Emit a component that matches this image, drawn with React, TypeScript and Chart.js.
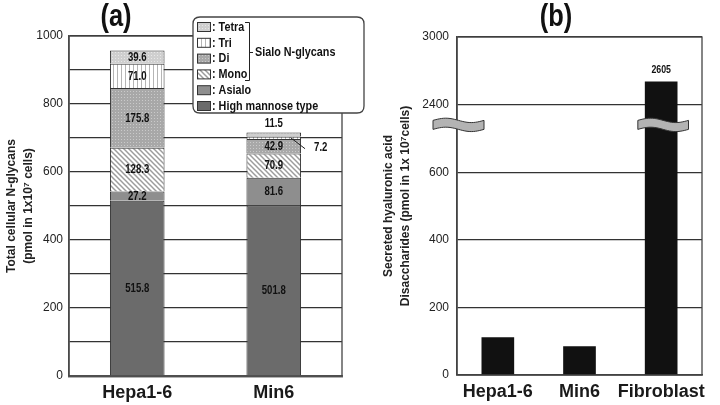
import React, { useEffect, useRef } from 'react';
import { Chart, registerables, LinearScale } from 'chart.js';

Chart.register(...registerables);

// ---------- data (a) ----------
const categoriesA = ['Hepa1-6', 'Min6'];
const highMannose = [515.8, 501.8];
const asialo = [27.2, 81.6];
const mono = [128.3, 70.9];
const di = [175.8, 42.9];
const tri = [71.0, 7.2];
const tetra = [39.6, 11.5];
const yTicksA = [0, 200, 400, 600, 800, 1000];
const legendNamesA = ['Tetra', 'Tri', 'Di', 'Mono', 'Asialo', 'High mannose type'];

// ---------- data (b) ----------
const categoriesB = ['Hepa1-6', 'Min6', 'Fibroblast'];
const hyaluronic = [112, 85, 2605];
const yTicksB = [0, 200, 400, 600, 2400, 3000];
const breakLow = 600;
const breakHigh = 2400;
const axisTopB = 3000;
const labelledB = [false, false, true];

const SANS = '"Liberation Sans", Arial, sans-serif';

// piecewise (broken) axis: lower 0..600 -> 60%, gap 600..2400 -> 20%, upper 2400..3000 -> 20%
function breakDecimal(v: number) {
  if (v <= breakLow) return (v / breakLow) * 0.6;
  if (v < breakHigh) return 0.6 + ((v - breakLow) / (breakHigh - breakLow)) * 0.2;
  return 0.8 + ((v - breakHigh) / (axisTopB - breakHigh)) * 0.2;
}
function breakValue(d: number) {
  if (d <= 0.6) return (d / 0.6) * breakLow;
  if (d < 0.8) return breakLow + ((d - 0.6) / 0.2) * (breakHigh - breakLow);
  return breakHigh + ((d - 0.8) / 0.2) * (axisTopB - breakHigh);
}

class BrokenScale extends (LinearScale as any) {
  static id = 'brokenLinear';
  static defaults = (LinearScale as any).defaults;
  buildTicks() {
    return yTicksB.map((value) => ({ value }));
  }
  getPixelForValue(v: number) {
    return (this as any).getPixelForDecimal(breakDecimal(v));
  }
  getValueForPixel(p: number) {
    return breakValue((this as any).getDecimalForPixel(p));
  }
}
Chart.register(BrokenScale as any);

function makePattern(bg: string, size: number, draw: (c: CanvasRenderingContext2D) => void) {
  const c = document.createElement('canvas');
  c.width = size;
  c.height = size;
  const ctx = c.getContext('2d')!;
  ctx.fillStyle = bg;
  ctx.fillRect(0, 0, size, size);
  draw(ctx);
  return ctx.createPattern(c, 'repeat')!;
}

function buildFills() {
  const monoP = makePattern('#ffffff', 5, (c) => {
    c.strokeStyle = '#9c9c9c';
    c.lineWidth = 1.5;
    for (const o of [-5, 0, 5]) {
      c.beginPath();
      c.moveTo(o - 1, -1);
      c.lineTo(o + 6, 6);
      c.stroke();
    }
  });
  const triP = makePattern('#ffffff', 4, (c) => {
    c.fillStyle = '#b5b5b5';
    c.fillRect(1, 0, 1, 4);
  });
  const diP = makePattern('#a8a8a8', 3, (c) => {
    c.fillStyle = '#cacaca';
    c.fillRect(1, 1, 1, 1);
  });
  const tetraP = makePattern('#cfcfcf', 3, (c) => {
    c.fillStyle = '#e8e8e8';
    c.fillRect(1, 1, 1, 1);
  });
  return { monoP, triP, diP, tetraP };
}

// condensed bold text (horizontal squeeze)
function narrowText(ctx: CanvasRenderingContext2D, txt: string, x: number, y: number, size: number, align: CanvasTextAlign, sx = 0.8) {
  ctx.save();
  ctx.font = 'bold ' + size + 'px ' + SANS;
  ctx.textAlign = align;
  ctx.textBaseline = 'middle';
  ctx.translate(x, y);
  ctx.scale(sx, 1);
  ctx.fillText(txt, 0, 0);
  ctx.restore();
}

function drawBreak(ctx: CanvasRenderingContext2D, x0: number, x1: number, yc: number) {
  const h = 9;
  const a = 2.2;
  const n = 24;
  ctx.save();
  ctx.beginPath();
  for (let i = 0; i <= n; i++) {
    const t = i / n;
    const x = x0 + (x1 - x0) * t;
    const y = yc - h / 2 - a * Math.sin(t * 2 * Math.PI);
    if (i === 0) ctx.moveTo(x, y);
    else ctx.lineTo(x, y);
  }
  for (let i = n; i >= 0; i--) {
    const t = i / n;
    const x = x0 + (x1 - x0) * t;
    const y = yc + h / 2 - a * Math.sin(t * 2 * Math.PI);
    ctx.lineTo(x, y);
  }
  ctx.closePath();
  ctx.fillStyle = '#b3b3b3';
  ctx.fill();
  ctx.strokeStyle = '#333';
  ctx.lineWidth = 1;
  ctx.stroke();
  ctx.restore();
}

function roundRect(ctx: CanvasRenderingContext2D, x: number, y: number, w: number, h: number, r: number) {
  ctx.beginPath();
  ctx.moveTo(x + r, y);
  ctx.lineTo(x + w - r, y);
  ctx.quadraticCurveTo(x + w, y, x + w, y + r);
  ctx.lineTo(x + w, y + h - r);
  ctx.quadraticCurveTo(x + w, y + h, x + w - r, y + h);
  ctx.lineTo(x + r, y + h);
  ctx.quadraticCurveTo(x, y + h, x, y + h - r);
  ctx.lineTo(x, y + r);
  ctx.quadraticCurveTo(x, y, x + r, y);
  ctx.closePath();
}

export default function App() {
  const refA = useRef<HTMLCanvasElement>(null);
  const refB = useRef<HTMLCanvasElement>(null);

  useEffect(() => {
    const { monoP, triP, diP, tetraP } = buildFills();
    const fillsA = ['#6b6b6b', '#8e8e8e', monoP, diP, triP, tetraP];
    const seriesA = [highMannose, asialo, mono, di, tri, tetra];
    const namesA = ['High mannose type', 'Asialo', 'Mono', 'Di', 'Tri', 'Tetra'];

    const framePlugin = {
      id: 'frame',
      beforeDatasetsDraw(chart: any) {
        const { ctx, chartArea: ca } = chart;
        ctx.save();
        ctx.strokeStyle = '#444';
        ctx.lineWidth = 1.3;
        ctx.strokeRect(ca.left, ca.top, ca.right - ca.left, ca.bottom - ca.top);
        ctx.restore();
      },
    };

    const labelsA = {
      id: 'labelsA',
      afterDatasetsDraw(chart: any) {
        const ctx = chart.ctx;
        ctx.save();
        ctx.fillStyle = '#111';
        const last = chart.data.datasets.length - 1;
        chart.data.datasets.forEach((ds: any, di2: number) => {
          const meta = chart.getDatasetMeta(di2);
          meta.data.forEach((bar: any, i: number) => {
            const { x, y, base, width } = bar.getProps(['x', 'y', 'base', 'width'], true);
            const h = Math.abs(base - y);
            const txt = Number(ds.data[i]).toFixed(1);
            const mid = (y + base) / 2;
            if (h >= 8) {
              narrowText(ctx, txt, x, mid + 0.5, 12, 'center');
            } else if (di2 === last) {
              narrowText(ctx, txt, x, y - 9, 12, 'center');
            } else {
              ctx.strokeStyle = '#222';
              ctx.lineWidth = 1;
              ctx.beginPath();
              ctx.moveTo(x + width * 0.31, mid);
              ctx.lineTo(x + width / 2 + 4, mid + 11);
              ctx.stroke();
              narrowText(ctx, txt, x + width / 2 + 13, mid + 10, 12, 'left');
            }
          });
        });
        ctx.restore();
      },
      afterDraw(chart: any) {
        const ctx = chart.ctx;
        ctx.save();
        ctx.fillStyle = '#111';
        narrowText(ctx, '(a)', 116, 17, 31, 'center', 0.82);
        // legend box
        const bx = 193, by = 17, bw = 171, bh = 96;
        roundRect(ctx, bx, by, bw, bh, 7);
        ctx.fillStyle = '#fff';
        ctx.fill();
        ctx.strokeStyle = '#444';
        ctx.lineWidth = 1.3;
        ctx.stroke();
        const fillByName: any = {};
        namesA.forEach((n, k) => (fillByName[n] = fillsA[k]));
        legendNamesA.forEach((n, k) => {
          const cy = 27 + k * 15.8;
          ctx.fillStyle = fillByName[n];
          ctx.fillRect(197, cy - 4.5, 14, 9);
          ctx.strokeStyle = '#333';
          ctx.lineWidth = 1;
          ctx.strokeRect(197.5, cy - 4.5, 13, 9);
          ctx.fillStyle = '#111';
          narrowText(ctx, ': ' + n, 212, cy + 0.5, 12, 'left', 0.9);
        });
        // bracket for sialo
        ctx.strokeStyle = '#222';
        ctx.lineWidth = 1;
        ctx.beginPath();
        ctx.moveTo(245, 22.5);
        ctx.lineTo(249.5, 22.5);
        ctx.lineTo(249.5, 80.5);
        ctx.lineTo(245, 80.5);
        ctx.moveTo(249.5, 52.5);
        ctx.lineTo(253, 52.5);
        ctx.stroke();
        ctx.fillStyle = '#111';
        narrowText(ctx, 'Sialo N-glycans', 255, 52.5, 12, 'left', 0.9);
        ctx.restore();
      },
    };

    const chartA = new Chart(refA.current!, {
      type: 'bar',
      data: {
        labels: categoriesA,
        datasets: seriesA.map((d, k) => ({
          label: namesA[k],
          data: d,
          backgroundColor: fillsA[k] as any,
          borderColor: '#333',
          borderWidth: 1,
          barPercentage: 0.4,
          categoryPercentage: 1,
        })),
      },
      options: {
        responsive: false,
        animation: false,
        events: [],
        layout: { padding: { top: 36, right: 33, left: 0, bottom: 0 } },
        plugins: { legend: { display: false }, tooltip: { enabled: false }, title: { display: false } },
        scales: {
          x: {
            stacked: true,
            grid: { display: false, drawTicks: false },
            border: { display: true, color: '#666', width: 2.5 },
            ticks: { padding: 6, maxRotation: 0, minRotation: 0, autoSkip: false, color: '#1a1a1a', font: { family: SANS, size: 18, weight: 'bold' } },
            afterFit: (s: any) => { s.height = 29; },
          },
          y: {
            stacked: true,
            min: 0,
            max: 1000,
            grid: { color: '#333', lineWidth: 1.3, drawTicks: false },
            border: { display: true, color: '#555', width: 1.5 },
            ticks: {
              stepSize: 100,
              padding: 6,
              color: '#222',
              font: { family: SANS, size: 12 },
              callback: (v: any) => (yTicksA.includes(Number(v)) ? String(v) : ''),
            },
            title: {
              display: true,
              text: ['Total cellular N-glycans', '(pmol in 1x10\u2077 cells)'],
              color: '#222',
              font: { family: SANS, size: 12, weight: 'bold', lineHeight: 1.35 },
              padding: { top: 4, bottom: 0 },
            },
            afterFit: (s: any) => { s.width = 69; },
          },
        },
      },
      plugins: [framePlugin, labelsA],
    } as any);

    const decoB = {
      id: 'decoB',
      afterDatasetsDraw(chart: any) {
        const ctx = chart.ctx;
        const ca = chart.chartArea;
        const yS = chart.scales.y;
        const meta = chart.getDatasetMeta(0);
        const yc = yS.getPixelForDecimal(0.74);
        drawBreak(ctx, ca.left - 24, ca.left + 27, yc);
        meta.data.forEach((bar: any, i: number) => {
          const { x, y, width } = bar.getProps(['x', 'y', 'width'], true);
          if (y < yc) drawBreak(ctx, x - width / 2 - 7, x + width / 2 + 11, yc);
          if (labelledB[i]) {
            ctx.save();
            ctx.fillStyle = '#111';
            narrowText(ctx, String(hyaluronic[i]), x, y - 12, 11, 'center');
            ctx.restore();
          }
        });
      },
      afterDraw(chart: any) {
        const ctx = chart.ctx;
        ctx.save();
        ctx.fillStyle = '#111';
        narrowText(ctx, '(b)', 186, 17, 31, 'center', 0.82);
        ctx.restore();
      },
    };

    const chartB = new Chart(refB.current!, {
      type: 'bar',
      data: {
        labels: categoriesB,
        datasets: [
          {
            label: 'Hyaluronic acid',
            data: hyaluronic,
            backgroundColor: '#111',
            borderWidth: 0,
            barPercentage: 0.4,
            categoryPercentage: 1,
          },
        ],
      },
      options: {
        responsive: false,
        animation: false,
        events: [],
        layout: { padding: { top: 37, right: 18, left: 0, bottom: 0 } },
        plugins: { legend: { display: false }, tooltip: { enabled: false }, title: { display: false } },
        scales: {
          x: {
            grid: { display: false, drawTicks: false },
            border: { display: true, color: '#444', width: 1.5 },
            ticks: { padding: 6, maxRotation: 0, minRotation: 0, autoSkip: false, color: '#1a1a1a', font: { family: SANS, size: 18, weight: 'bold' } },
            afterFit: (s: any) => { s.height = 30; },
          },
          y: {
            type: 'brokenLinear',
            min: 0,
            max: axisTopB,
            grid: { color: '#333', lineWidth: 1.3, drawTicks: false },
            border: { display: true, color: '#444', width: 1.5 },
            ticks: {
              padding: 8,
              color: '#222',
              font: { family: SANS, size: 12 },
              callback: (v: any) => String(v),
            },
            title: {
              display: true,
              text: ['Secreted hyaluronic acid', 'Disaccharides (pmol in 1x 10\u2077cells)'],
              color: '#222',
              font: { family: SANS, size: 12, weight: 'bold', lineHeight: 1.35 },
              padding: { top: 11, bottom: 0 },
            },
            afterFit: (s: any) => { s.width = 87; },
          },
        },
      },
      plugins: [framePlugin, decoB],
    } as any);

    return () => {
      chartA.destroy();
      chartB.destroy();
    };
  }, []);

  return (
    <div style={{ position: 'fixed', left: 0, top: 0, width: 720, height: 405, background: '#fff', overflow: 'hidden' }}>
      <canvas ref={refA} width={375} height={405} style={{ position: 'absolute', left: 0, top: 0, width: 375, height: 405 }} />
      <canvas ref={refB} width={350} height={405} style={{ position: 'absolute', left: 370, top: 0, width: 350, height: 405 }} />
    </div>
  );
}
